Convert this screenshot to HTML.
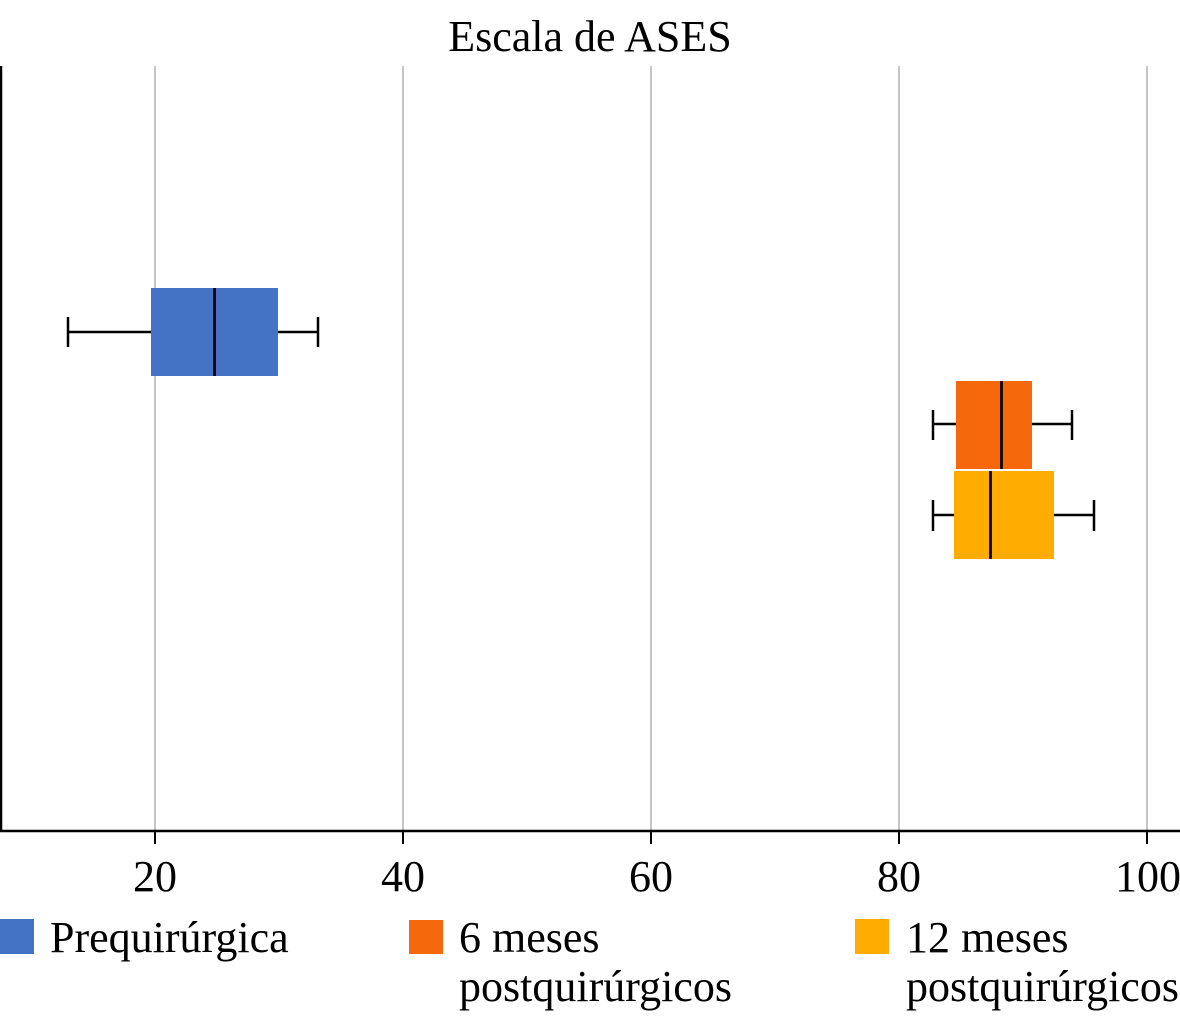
<!DOCTYPE html>
<html>
<head>
<meta charset="utf-8">
<style>
html,body{margin:0;padding:0;background:#fff;}
svg{display:block;}
text{font-family:"Liberation Serif","Times New Roman",serif;fill:#000;}
</style>
</head>
<body>
<svg width="1180" height="1024" viewBox="0 0 1180 1024" xmlns="http://www.w3.org/2000/svg">
<rect width="1180" height="1024" fill="#fff"/>
<text x="590" y="51" font-size="44" text-anchor="middle">Escala de ASES</text>
<!-- gridlines -->
<g stroke="#c6c6c6" stroke-width="2">
<line x1="155" y1="66" x2="155" y2="831"/>
<line x1="403" y1="66" x2="403" y2="831"/>
<line x1="651" y1="66" x2="651" y2="831"/>
<line x1="899" y1="66" x2="899" y2="831"/>
<line x1="1147" y1="66" x2="1147" y2="831"/>
</g>
<!-- axes -->
<line x1="1" y1="66" x2="1" y2="832" stroke="#000" stroke-width="2.5"/>
<line x1="0" y1="831" x2="1180" y2="831" stroke="#000" stroke-width="2.5"/>
<g stroke="#000" stroke-width="2">
<line x1="155" y1="831" x2="155" y2="844"/>
<line x1="403" y1="831" x2="403" y2="844"/>
<line x1="651" y1="831" x2="651" y2="844"/>
<line x1="899" y1="831" x2="899" y2="844"/>
<line x1="1147" y1="831" x2="1147" y2="844"/>
</g>
<g font-size="44" text-anchor="middle">
<text x="155" y="891">20</text>
<text x="403" y="891">40</text>
<text x="651" y="891">60</text>
<text x="899" y="891">80</text>
<text x="1148" y="891">100</text>
</g>
<!-- Blue box -->
<g stroke="#000" stroke-width="2.5">
<line x1="68" y1="332" x2="151" y2="332"/>
<line x1="278" y1="332" x2="318" y2="332"/>
<line x1="68" y1="317" x2="68" y2="347"/>
<line x1="318" y1="317" x2="318" y2="347"/>
</g>
<rect x="151" y="288" width="127" height="88" fill="#4472c4"/>
<line x1="214.5" y1="288" x2="214.5" y2="376" stroke="#000" stroke-width="2.7"/>
<!-- Orange box -->
<g stroke="#000" stroke-width="2.5">
<line x1="933" y1="424" x2="956" y2="424"/>
<line x1="1032" y1="424" x2="1072" y2="424"/>
<line x1="933" y1="410" x2="933" y2="440"/>
<line x1="1072" y1="410" x2="1072" y2="440"/>
</g>
<rect x="956" y="381" width="76" height="88" fill="#f5680c"/>
<line x1="1001.5" y1="381" x2="1001.5" y2="469" stroke="#000" stroke-width="2.7"/>
<!-- Yellow box -->
<g stroke="#000" stroke-width="2.5">
<line x1="933" y1="515" x2="954" y2="515"/>
<line x1="1054" y1="515" x2="1094" y2="515"/>
<line x1="933" y1="500" x2="933" y2="531"/>
<line x1="1094" y1="500" x2="1094" y2="531"/>
</g>
<rect x="954" y="471" width="100" height="88" fill="#ffab00"/>
<line x1="990.5" y1="471" x2="990.5" y2="559" stroke="#000" stroke-width="2.7"/>
<!-- Legend -->
<rect x="-1" y="919" width="35" height="35" fill="#4472c4"/>
<text x="50" y="952" font-size="44">Prequirúrgica</text>
<rect x="409" y="920" width="34" height="34" fill="#f5680c"/>
<text x="459" y="952" font-size="44">6 meses</text>
<text x="459" y="1001" font-size="44">postquirúrgicos</text>
<rect x="855" y="919" width="34" height="35" fill="#ffab00"/>
<text x="906" y="952" font-size="44">12 meses</text>
<text x="906" y="1001" font-size="44">postquirúrgicos</text>
</svg>
</body>
</html>
